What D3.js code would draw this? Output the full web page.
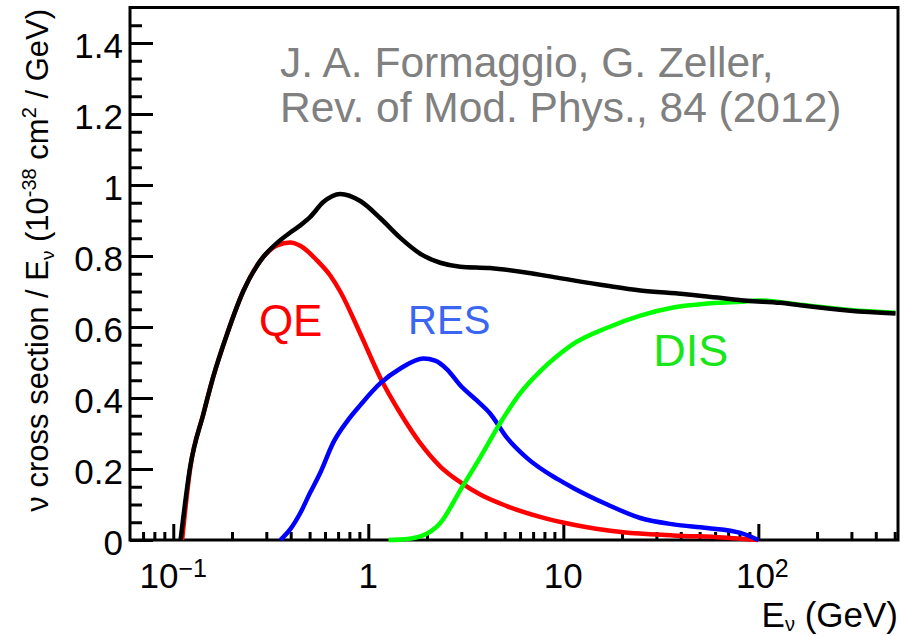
<!DOCTYPE html>
<html>
<head>
<meta charset="utf-8">
<script src="https://cdn.jsdelivr.net/npm/d3@7"></script>
<style>
  body { margin: 0; background: #fff; }
  svg { display: block; font-family: "Liberation Sans", Arial, sans-serif; }
</style>
</head>
<body>
<div id="chart"></div>
<script>
// values: neutrino energy (GeV) and cross section / E (1e-38 cm^2/GeV)
var totalE  = [0.109, 0.122, 0.143, 0.16, 0.189, 0.229, 0.28, 0.341, 0.398, 0.45, 0.504, 0.588, 0.718, 0.91, 1.15, 1.46, 1.85, 2.34, 2.96, 4.2, 6.54, 9.3, 16.8, 24.8, 41.3, 61.6, 87.9, 130, 164, 296, 505];
var totalXS = [0, 0.205, 0.357, 0.458, 0.581, 0.702, 0.787, 0.837, 0.866, 0.887, 0.910, 0.952, 0.975, 0.955, 0.907, 0.851, 0.806, 0.781, 0.770, 0.766, 0.753, 0.739, 0.716, 0.703, 0.693, 0.683, 0.674, 0.668, 0.661, 0.646, 0.638];

var qeE  = [0.111, 0.122, 0.143, 0.16, 0.189, 0.229, 0.28, 0.341, 0.398, 0.45, 0.547, 0.638, 0.718, 0.91, 1.15, 1.46, 1.85, 2.34, 2.96, 3.75, 5.16, 7.6, 11.3, 20.3, 36.6, 66, 100];
var qeXS = [0, 0.2, 0.357, 0.458, 0.581, 0.702, 0.787, 0.830, 0.838, 0.828, 0.787, 0.745, 0.700, 0.581, 0.458, 0.357, 0.272, 0.207, 0.163, 0.128, 0.095, 0.065, 0.043, 0.022, 0.013, 0.007, 0];

var resE  = [0.354, 0.40, 0.448, 0.50, 0.568, 0.662, 0.78, 0.91, 1.15, 1.46, 1.92, 2.2, 2.54, 2.96, 3.6, 4.2, 5.16, 6.54, 9.3, 11.3, 16.8, 24.8, 36.6, 54.6, 81, 100];
var resXS = [0, 0.032, 0.076, 0.13, 0.19, 0.275, 0.335, 0.38, 0.441, 0.483, 0.511, 0.505, 0.48, 0.436, 0.393, 0.357, 0.287, 0.230, 0.172, 0.146, 0.100, 0.062, 0.044, 0.034, 0.02, 0];

var disE  = [1.27, 1.6, 1.85, 2.1, 2.34, 2.96, 3.75, 4.74, 6.0, 7.6, 9.3, 11.3, 16.8, 24.8, 36.6, 54.6, 81, 100, 164, 296, 505];
var disXS = [0, 0.003, 0.01, 0.025, 0.048, 0.14, 0.233, 0.329, 0.413, 0.475, 0.518, 0.553, 0.598, 0.632, 0.655, 0.666, 0.671, 0.675, 0.663, 0.648, 0.640];

var yTicks = [0, 0.2, 0.4, 0.6, 0.8, 1, 1.2, 1.4];
var yMinor = [0.05, 0.1, 0.15, 0.25, 0.3, 0.35, 0.45, 0.5, 0.55, 0.65, 0.7, 0.75, 0.85, 0.9, 0.95, 1.05, 1.1, 1.15, 1.25, 1.3, 1.35, 1.45];
var xTicks = [0.1, 1, 10, 100];
var xTickBase = ["10", "1", "10", "10"];
var xTickExp  = ["\u22121", "", "", "2"];
var xMinor = [0.07, 0.08, 0.09, 0.2, 0.3, 0.4, 0.5, 0.6, 0.7, 0.8, 0.9, 2, 3, 4, 5, 6, 7, 8, 9, 20, 30, 40, 50, 60, 70, 80, 90, 200, 300, 400, 500];

var width = 904, height = 636;
var margin = {left: 130, right: 6, top: 7.5, bottom: 96};

var svg = d3.select("#chart").append("svg")
    .attr("width", width)
    .attr("height", height);

var x = d3.scaleLog()
    .domain([0.06, 520])
    .range([margin.left, width - margin.right]);

var y = d3.scaleLinear()
    .domain([0, 1.5])
    .range([height - margin.bottom, margin.top]);

// frame
svg.append("rect")
    .attr("x", x.range()[0])
    .attr("y", y.range()[1])
    .attr("width", x.range()[1] - x.range()[0])
    .attr("height", y.range()[0] - y.range()[1])
    .attr("fill", "none")
    .attr("stroke", "#000")
    .attr("stroke-width", 3);

// y axis, ticks pointing inward
var yAxis = svg.append("g")
    .attr("transform", "translate(" + margin.left + ",0)")
    .call(d3.axisLeft(y).tickValues(yTicks).tickSizeInner(-23).tickSizeOuter(0).tickPadding(7).tickFormat(d3.format("~g")));
yAxis.select(".domain").remove();
yAxis.selectAll("line").attr("stroke-width", 3);
yAxis.selectAll("text")
    .attr("font-size", 35)
    .attr("font-family", "Liberation Sans, Arial, sans-serif")
    .attr("dy", "0.42em")
    .attr("fill", "#000");

var yAxisMinor = svg.append("g")
    .attr("transform", "translate(" + margin.left + ",0)")
    .call(d3.axisLeft(y).tickValues(yMinor).tickSizeInner(-12).tickSizeOuter(0).tickFormat(""));
yAxisMinor.select(".domain").remove();
yAxisMinor.selectAll("line").attr("stroke-width", 3);

// x axis, ticks pointing inward
var xBase = height - margin.bottom;
var xAxis = svg.append("g")
    .attr("transform", "translate(0," + xBase + ")")
    .call(d3.axisBottom(x).tickValues(xTicks).tickSizeInner(-16).tickSizeOuter(0).tickFormat(""));
xAxis.select(".domain").remove();
xAxis.selectAll("line").attr("stroke-width", 3);

var xAxisMinor = svg.append("g")
    .attr("transform", "translate(0," + xBase + ")")
    .call(d3.axisBottom(x).tickValues(xMinor).tickSizeInner(-8).tickSizeOuter(0).tickFormat(""));
xAxisMinor.select(".domain").remove();
xAxisMinor.selectAll("line").attr("stroke-width", 3);

// x tick labels with superscripts
var xl = svg.append("g").selectAll("text")
    .data(xTicks)
    .enter().append("text")
    .attr("x", function (d) { return x(d) + (d === 100 ? 4 : 0); })
    .attr("y", xBase + 48)
    .attr("text-anchor", "middle")
    .attr("font-size", 35)
    .attr("fill", "#000");
xl.append("tspan").text(function (d, i) { return xTickBase[i]; });
xl.append("tspan")
    .attr("font-size", 25)
    .attr("dy", -11)
    .text(function (d, i) { return xTickExp[i]; });

// curves
var line = d3.line()
    .x(function (d) { return x(d[0]); })
    .y(function (d) { return y(d[1]); })
    .curve(d3.curveMonotoneX);

var curves = [
    {e: qeE, v: qeXS, color: "#ff0000"},
    {e: resE, v: resXS, color: "#0000ff"},
    {e: disE, v: disXS, color: "#00ff00"},
    {e: totalE, v: totalXS, color: "#000000"}
];

svg.append("g").selectAll("path")
    .data(curves)
    .enter().append("path")
    .attr("d", function (c) { return line(c.e.map(function (e, i) { return [e, c.v[i]]; })); })
    .attr("fill", "none")
    .attr("stroke", function (c) { return c.color; })
    .attr("stroke-width", 4.5)
    .attr("stroke-linejoin", "round");

// curve labels
var labels = [
    {text: "QE", e: 0.40, v: 0.575, size: 44, color: "#ff0000"},
    {text: "RES", e: 2.6, v: 0.58, size: 40, color: "#3a66f2"},
    {text: "DIS", e: 45, v: 0.49, size: 45, color: "#18e618"}
];
svg.append("g").selectAll("text")
    .data(labels)
    .enter().append("text")
    .attr("x", function (d) { return x(d.e); })
    .attr("y", function (d) { return y(d.v); })
    .attr("text-anchor", "middle")
    .attr("font-size", function (d) { return d.size; })
    .attr("fill", function (d) { return d.color; })
    .text(function (d) { return d.text; });

// citation
var cite = svg.append("text")
    .attr("x", 280)
    .attr("font-size", 42.5)
    .attr("fill", "#808080");
cite.append("tspan").attr("x", 280).attr("y", 77).text("J. A. Formaggio, G. Zeller,");
cite.append("tspan").attr("x", 280).attr("y", 122).text("Rev. of Mod. Phys., 84 (2012)");

// x axis title
var xt = svg.append("text")
    .attr("x", width - 6)
    .attr("y", 627)
    .attr("text-anchor", "end")
    .attr("font-size", 35)
    .attr("fill", "#000");
xt.append("tspan").text("E");
xt.append("tspan").attr("font-size", 20).attr("dy", 4).text("\u03bd");
xt.append("tspan").attr("dy", -4).text(" (GeV)");

// y axis title
var yt = svg.append("text")
    .attr("transform", "translate(48,9) rotate(-90)")
    .attr("text-anchor", "end")
    .attr("font-size", 31)
    .attr("fill", "#000");
yt.append("tspan").text("\u03bd cross section / E");
yt.append("tspan").attr("font-size", 19).attr("dy", 6).text("\u03bd");
yt.append("tspan").attr("dy", -6).text(" (10");
yt.append("tspan").attr("font-size", 20).attr("dy", -12).text("-38");
yt.append("tspan").attr("dy", 12).text("  cm");
yt.append("tspan").attr("font-size", 20).attr("dy", -12).text("2");
yt.append("tspan").attr("dy", 12).text(" / GeV)");
</script>
</body>
</html>
